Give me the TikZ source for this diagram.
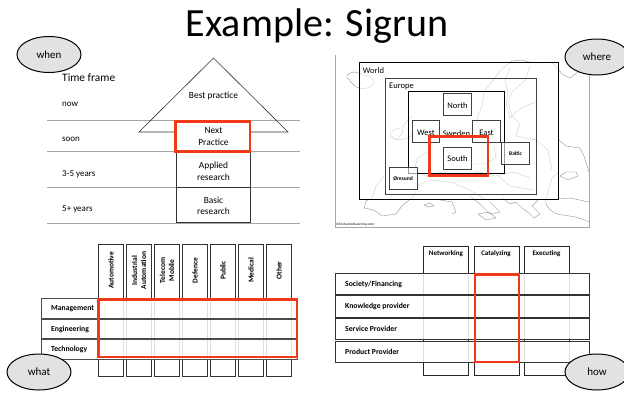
\documentclass[tikz,border=0pt]{standalone}
\usepackage{fontspec}
\setmainfont{Carlito}
\usetikzlibrary{shapes.geometric}
\definecolor{markred}{HTML}{F03A17}
\definecolor{bubble}{HTML}{E2E2E2}
\tikzset{
	bubblenode/.style={draw=black, line width=1pt, fill=bubble, ellipse, minimum width=64, minimum height=36, inner sep=0, font=\fontsize{11}{13}\selectfont},
	timelabel/.style={anchor=west, inner sep=0, font=\fontsize{9}{11}\selectfont},
	stagelabel/.style={align=center, inner sep=0, font=\fontsize{9.4}{11.5}\selectfont},
	geolabel/.style={inner sep=0, font=\fontsize{8.5}{10}\selectfont},
	geobox/.style={draw=black!75, line width=.8pt},
	headlabel/.style={inner sep=0, align=center, font=\fontsize{7.5}{9}\selectfont\bfseries},
	toplabel/.style={inner sep=0, font=\fontsize{7}{8}\selectfont\bfseries},
	rowlabel/.style={anchor=west, inner sep=0, font=\fontsize{7.7}{9}\selectfont\bfseries},
	redbox/.style={draw=markred, line width=2.3pt},
	timeline/.style={draw=black!35, line width=.8pt},
	coast/.style={draw=black!45, line width=.35pt, line join=round},
}
\begin{document}
\begin{tikzpicture}[x=1pt, y=-1pt]

	\clip (0,0) rectangle (624,392);
	\fill[white] (0,0) rectangle (624,392);

	\node[inner sep=0, font=\fontsize{40}{44}\selectfont] (title) at (317,26) {Example: Sigrun};

	\draw[timeline] (47,120) -- (300,120);
	\draw[timeline] (47,151) -- (300,151);
	\draw[timeline] (47,187) -- (300,187);
	\draw[timeline] (47,223) -- (300,223);

	\draw[black!80, line width=.6pt] (176.5,132) -- (139,132) -- (213.5,58) -- (288,132) -- (250.5,132);
	\draw[black!80, line width=.7pt] (176.5,132) -- (176.5,222) -- (250.5,222) -- (250.5,132);
	\draw[black!80, line width=.7pt] (176.5,187) -- (250.5,187);

	\node[timelabel, font=\fontsize{11.4}{13}\selectfont] (timeframe) at (62,78) {Time frame};
	\node[timelabel] (now) at (62,104.5) {now};
	\node[timelabel] (soon) at (62,139) {soon};
	\node[timelabel] (years35) at (62,174) {3-5 years};
	\node[timelabel] (years5) at (62,209) {5+ years};

	\node[stagelabel] (best) at (213.5,96) {Best practice};
	\node[stagelabel] (next) at (213.5,136.5) {Next\\Practice};
	\node[stagelabel] (applied) at (213.5,171.5) {Applied\\research};
	\node[stagelabel] (basic) at (213.5,206) {Basic\\research};

	\draw[redbox] (175.5,121.5) rectangle (250,151.5);

	\draw[black!35, line width=.6pt] (335.5,55) -- (335.5,227) -- (589,227) -- (589,73);

	\draw[coast] (347,75) .. controls (351,72) and (355,71) .. (358,73) .. controls (368,76) and (376,78) .. (373,84) .. controls (369,90) and (357,90) .. (353,84) .. controls (349,82) and (351,79) .. (347,78) -- cycle;
	\draw[coast] (502,69) -- (512,61) -- (522,60) -- (529,62) -- (539,63) -- (551,62) -- (556,66) -- (562,74) -- (570,78) -- (578,72) -- (589,70);
	\draw[coast] (502,69) -- (493,80) -- (484,92) -- (482,106) -- (477,118) -- (480,134) -- (474,142);
	\draw[coast] (510,68) -- (505,80) -- (508,92) -- (506,104) -- (510,118) -- (516,112) -- (525,106) -- (536,102);
	\draw[coast] (530,66) -- (525,80) -- (512,92) -- (508,102) -- (512,116) -- (520,124) -- (516,136) -- (536,140) -- (548,150) -- (552,170);
	\draw[coast] (412,116) -- (404,124) -- (402,134) -- (396,140) -- (392,136);
	\draw[coast] (400,128) .. controls (390,130) and (388,136) .. (392,138) .. controls (400,142) and (412,138) .. (414,132);
	\draw[coast] (395,176) -- (384,176) -- (376,186) -- (372,198) -- (366,201) -- (364,208) -- (374,210) -- (382,216) -- (396,214) -- (402,206) -- (414,196) -- (415,186);
	\draw[coast] (415,186) -- (430,180) -- (450,182) -- (466,188) -- (480,196) -- (486,200);
	\draw[coast] (440,200) -- (452,202) -- (456,212) -- (452,214);
	\draw[coast] (424,205) -- (430,203) -- (434,206) -- (428,207) -- cycle;
	\draw[coast] (470,196) -- (482,206) -- (490,214) -- (500,212) -- (490,202);
	\draw[coast] (478,214) -- (489,212) -- (496,218) -- (486,220) -- cycle;
	\draw[coast] (503,198) -- (510,204) -- (516,202) -- (522,208) -- (530,214) -- (534,218) -- (540,214) -- (532,206) -- (538,200);
	\draw[coast] (546,198) -- (552,178) -- (559,172);
	\draw[coast] (546,198) .. controls (544,206) and (552,214) .. (562,215) .. controls (572,216) and (582,218) .. (589,222);
	\draw[coast] (546,200) -- (570,198) -- (589,202);
	\draw[coast] (559,140) -- (566,146) -- (580,148) -- (584,156) -- (589,172);
	\draw[coast] (566,172) -- (576,172) -- (578,176) -- (568,180) -- (560,176) -- cycle;
	\draw[coast] (430,150) -- (418,158) -- (414,170) -- (426,176) -- (442,172) -- (462,176) -- (478,172) -- (496,176) -- (514,172) -- (530,178);
	\draw[coast] (462,150) -- (466,164) -- (484,164) -- (496,158) -- (494,146);
	\draw[coast] (498,176) -- (510,186) -- (534,190);

	\fill[white, opacity=.55] (359.5,62.5) rectangle (558.5,199.5);

	\draw[black, line width=.8pt] (359.5,62.5) rectangle (558.5,199.5);
	\draw[geobox] (385.5,78) rectangle (536,194);
	\draw[black, line width=.7pt] (408.5,91.5) rectangle (504.5,173.5);
	\filldraw[geobox, fill=white] (443.5,93.5) rectangle (471,115.5);
	\filldraw[geobox, fill=white, fill opacity=.6] (412,120.5) rectangle (439.5,142.5);
	\filldraw[geobox, fill=white, fill opacity=.6] (472.5,120) rectangle (500,142);
	\filldraw[geobox, fill=white] (443.5,147) rectangle (471,169);
	\filldraw[geobox, fill=white, fill opacity=.6] (501.5,142.5) rectangle (529,164);
	\filldraw[geobox, fill=white, fill opacity=.6] (389.5,167.5) rectangle (417,189);

	\node[geolabel] (world) at (373.5,70.5) {World};
	\node[geolabel] (europe) at (401.5,86) {Europe};
	\node[geolabel] (sweden) at (456.5,134) {Sweden};
	\node[geolabel] (north) at (457.5,106) {North};
	\node[geolabel] (west) at (426,133) {West};
	\node[geolabel] (east) at (486.5,132.5) {East};
	\node[geolabel] (south) at (457.5,159) {South};
	\node[geolabel, font=\fontsize{5.5}{6}\selectfont\bfseries] (baltic) at (515.5,154) {Baltic};
	\node[geolabel, font=\fontsize{5.5}{6}\selectfont\bfseries] (oresund) at (403,179) {Øresund};
	\node[inner sep=0, anchor=west, black!70, font=\fontsize{3.5}{4}\selectfont\bfseries] (credit) at (336,225) {©EnchantedLearning.com};

	\draw[redbox] (429.5,136.5) rectangle (488,175.5);

	\foreach \colx in {98,126,154,182,210,238,266}
		\draw[black!80, line width=.7pt] (\colx,244.5) rectangle (\colx+25.5,376.5);

	\node[headlabel, rotate=90] (automotive) at (111,270.5) {Automotive};
	\node[headlabel, rotate=90] (industrial) at (139,270.5) {Industrial\\Automation};
	\node[headlabel, rotate=90] (telecom) at (167,270.5) {Telecom\\Mobile};
	\node[headlabel, rotate=90] (defence) at (195,270.5) {Defence};
	\node[headlabel, rotate=90] (public) at (223,270.5) {Public};
	\node[headlabel, rotate=90] (medical) at (251,270.5) {Medical};
	\node[headlabel, rotate=90] (other) at (279,270.5) {Other};

	\foreach \rowy in {298.5,319,339.5}
	{
		\fill[white, opacity=.85] (41.5,\rowy) rectangle (297,\rowy+19.5);
		\draw[black!70, line width=.8pt] (41.5,\rowy) rectangle (297,\rowy+19.5);
	}

	\node[rowlabel] (management) at (51,308.5) {Management};
	\node[rowlabel] (engineering) at (51,329) {Engineering};
	\node[rowlabel] (technology) at (51,349.5) {Technology};

	\draw[redbox] (98.5,299.5) rectangle (297,357);

	\foreach \colx in {423.5,474,524.5}
		\draw[black!85, line width=.7pt] (\colx,246.5) rectangle (\colx+45,375.5);

	\node[toplabel] (networking) at (446,253.5) {Networking};
	\node[toplabel] (catalyzing) at (496,253.5) {Catalyzing};
	\node[toplabel] (executing) at (546.5,253.5) {Executing};

	\foreach \rowy in {273,295.5,318,341}
	{
		\fill[white, opacity=.85] (335.5,\rowy) rectangle (589,\rowy+21.5);
		\draw[black!80, line width=.8pt] (335.5,\rowy) rectangle (589,\rowy+21.5);
	}

	\node[rowlabel] (society) at (345,284) {Society/Financing};
	\node[rowlabel] (knowledge) at (345,306.5) {Knowledge provider};
	\node[rowlabel] (service) at (345,329) {Service Provider};
	\node[rowlabel] (product) at (345,352) {Product Provider};

	\draw[redbox] (475,274.5) rectangle (519,362);

	\node[bubblenode] (when) at (49,54.5) {when};
	\node[bubblenode] (where) at (597,57) {where};
	\node[bubblenode] (what) at (39,372) {what};
	\node[bubblenode] (how) at (597,372) {how};

\end{tikzpicture}
\end{document}
